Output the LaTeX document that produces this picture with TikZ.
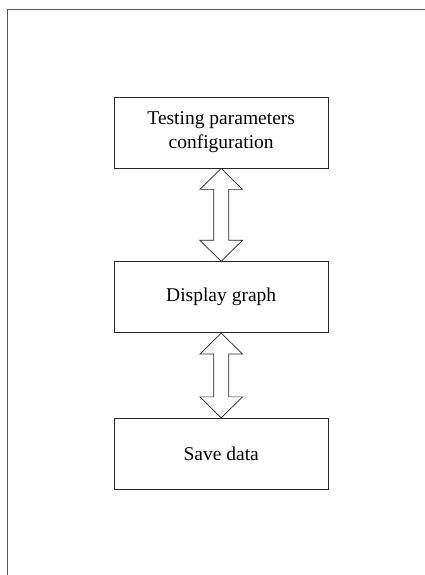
\documentclass[tikz,border=0pt]{standalone}
\usepackage{fontspec}
\setmainfont{Liberation Serif}
\usetikzlibrary{calc}
\begin{document}
\begin{tikzpicture}[x=1pt,y=1pt,
  box/.style={draw=black!85, line width=0.8pt, minimum width=214pt, minimum height=71pt, align=center, inner sep=0pt, font=\fontsize{19.5}{24}\selectfont},
  dblarrow/.style={draw=black!85, line width=0.7pt, fill=white, line join=miter},
  frameline/.style={draw=black!65, line width=1pt}]
\useasboundingbox (0,0) rectangle (425,575);
\coordinate (ftop) at (425,565.5);
\coordinate (fcorner) at (7.5,565.5);
\coordinate (fbot) at (7.5,0);
\draw[frameline] (ftop) -- (fcorner) -- (fbot);
\node[box] (b1) at (221.2,442.5) {Testing parameters\\configuration};
\node[box] (b2) at (221.2,277.8) {Display graph};
\node[box] (b3) at (221.2,121.2) {Save data};
\draw[dblarrow] (b1.south) -- ++(21.3,-21) -- ++(-13.8,0) -- ($(b2.north)+(7.5,21)$) -- ++(13.8,0) -- (b2.north) -- ++(-21.3,21) -- ++(13.8,0) -- ($(b1.south)+(-7.5,-21)$) -- ++(-13.8,0) -- cycle;
\draw[dblarrow] (b2.south) -- ++(21.3,-21) -- ++(-13.8,0) -- ($(b3.north)+(7.5,21)$) -- ++(13.8,0) -- (b3.north) -- ++(-21.3,21) -- ++(13.8,0) -- ($(b2.south)+(-7.5,-21)$) -- ++(-13.8,0) -- cycle;
\end{tikzpicture}
\end{document}
